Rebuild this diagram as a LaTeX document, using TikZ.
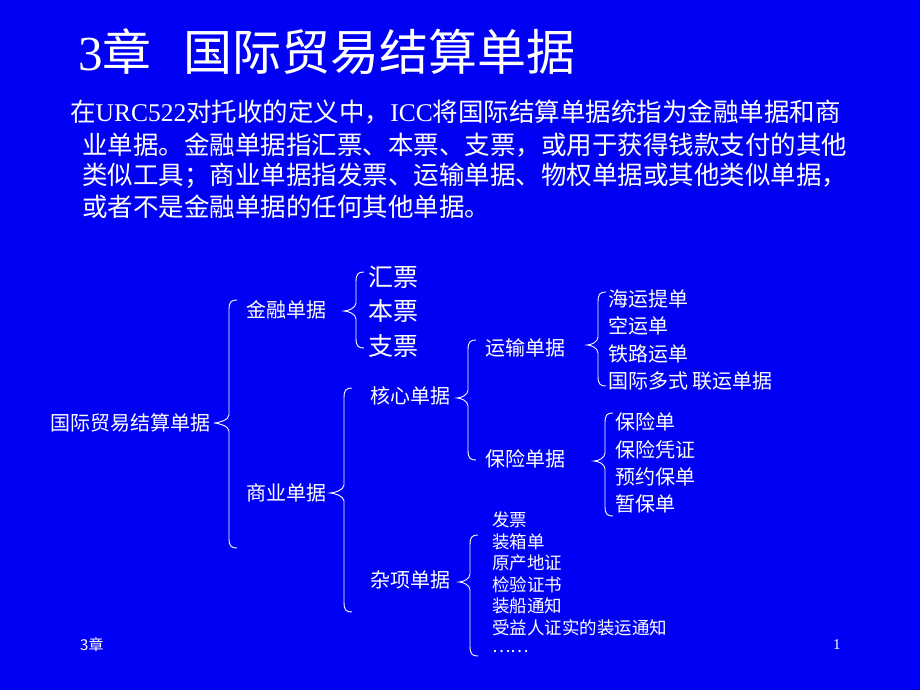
\documentclass[tikz,border=0pt]{standalone}
\usepackage{fontspec}
\setmainfont{Liberation Serif}
\newfontfamily\cjk{Noto Sans CJK SC}
\definecolor{bg}{RGB}{0,0,245}
\newcommand\mybrace[5]{% x, top, mid, bot, tip
 \draw[brc] (#1+8,#2) .. controls (#1+2,#2) and (#1,#2+2) .. (#1,#2+10) -- (#1,#3-8) .. controls (#1,#3-3) and (#5+4,#3) .. (#5,#3) .. controls (#5+4,#3) and (#1,#3+3) .. (#1,#3+8) -- (#1,#4-10) .. controls (#1,#4-2) and (#1+2,#4) .. (#1+8,#4);}
\begin{document}
\begin{tikzpicture}[x=1pt,y=-1pt,
 t/.style={anchor=west,inner sep=0,text=white,font=\cjk},
 brc/.style={draw=white,line width=0.9pt}]
\fill[bg] (0,0) rectangle (920,690);
\useasboundingbox (0,0) rectangle (920,690);
\node[t,font=\fontsize{49}{49}\selectfont] (title) at (78,52) {3{\cjk 章}\hspace{0.65em}{\cjk 国际贸易结算单据}};
\begin{scope}[every node/.style={t,font=\fontsize{25.5}{26}\selectfont}]
\node (p1) at (70,112) {\cjk 在{\rmfamily URC522}对托收的定义中，{\rmfamily ICC}将国际结算单据统指为金融单据和商};
\node (p2) at (82,145) {\cjk 业单据。金融单据指汇票、本票、支票，或用于获得钱款支付的其他};
\node (p3) at (82,176) {\cjk 类似工具；商业单据指发票、运输单据、物权单据或其他类似单据，};
\node (p4) at (82,207) {\cjk 或者不是金融单据的任何其他单据。};
\end{scope}
\begin{scope}[every node/.style={t,font=\cjk\fontsize{20}{20}\selectfont}]
\node (root) at (50,423) {国际贸易结算单据};
\node (jr) at (246,310) {金融单据};
\node (sy) at (246,493) {商业单据};
\node (hx) at (370,396) {核心单据};
\node (zx) at (370,580) {杂项单据};
\node (ys) at (485,348) {运输单据};
\node (bx) at (485,459) {保险单据};
\node (a1) at (608,299) {海运提单};
\node (a2) at (608,326) {空运单};
\node (a3) at (608,354) {铁路运单};
\node (a4) at (608,381) {国际多式 联运单据};
\node (b1) at (615,422) {保险单};
\node (b2) at (615,450) {保险凭证};
\node (b3) at (615,477) {预约保单};
\node (b4) at (615,504) {暂保单};
\end{scope}
\begin{scope}[every node/.style={t,font=\cjk\fontsize{25}{25}\selectfont}]
\node (h1) at (368,277) {汇票};
\node (h2) at (368,311) {本票};
\node (h3) at (368,346) {支票};
\end{scope}
\begin{scope}[every node/.style={t,font=\cjk\fontsize{17.5}{17.5}\selectfont}]
\node (c1) at (492,520) {发票};
\node (c2) at (492,542) {装箱单};
\node (c3) at (492,563) {原产地证};
\node (c4) at (492,585) {检验证书};
\node (c5) at (492,606) {装船通知};
\node (c6) at (492,628) {受益人证实的装运通知};
\node (c7) at (492,652) {……};
\end{scope}
\node[t,font=\cjk\fontsize{15}{15}\selectfont] (f1) at (80,645) {3章};
\node[t,font=\fontsize{15}{15}\selectfont] (f2) at (833,645) {1};
\mybrace{229}{300}{423}{548}{214}
\mybrace{356}{272}{311}{348}{344}
\mybrace{344}{388}{493}{612}{330}
\mybrace{468}{340}{398}{460}{457}
\mybrace{598}{292}{345}{386}{587}
\mybrace{605}{413}{461}{516}{594}
\mybrace{470}{535}{582}{656}{459}
\end{tikzpicture}
\end{document}
